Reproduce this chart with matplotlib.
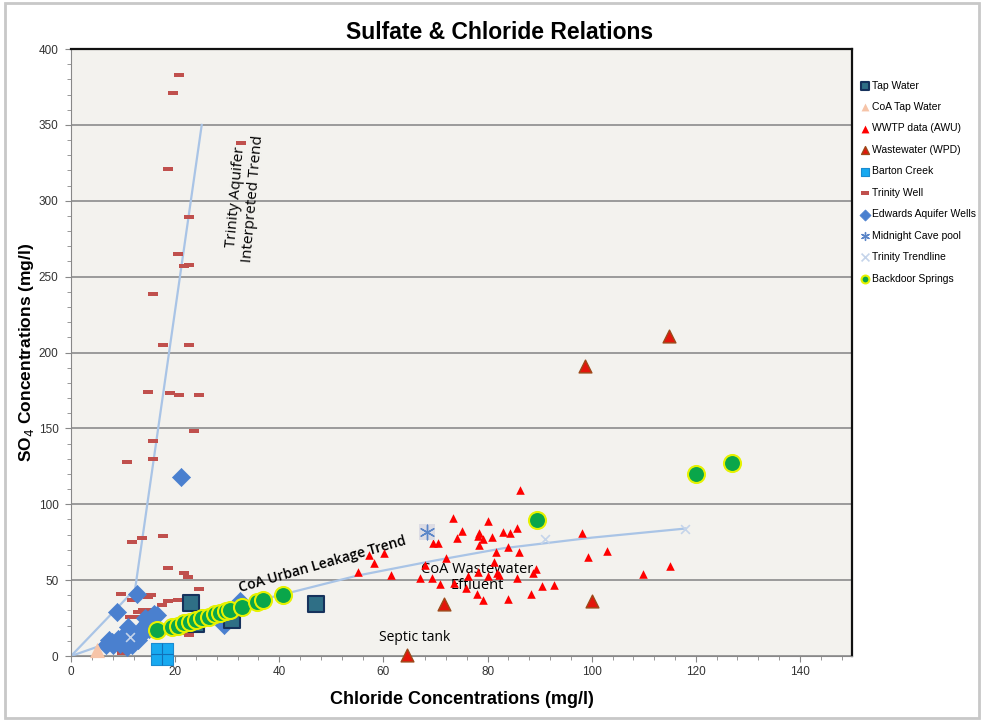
import matplotlib
matplotlib.use("Agg")
import matplotlib.pyplot as plt
from matplotlib.patches import Rectangle
from matplotlib.ticker import MultipleLocator

plt.rcParams['font.family'] = ['Liberation Sans Narrow', 'Liberation Sans', 'DejaVu Sans']

# ---- data (Cl mg/l, SO4 mg/l) ----
tap_cl = [23, 47, 31, 24]
tap_so4 = [35, 34, 24, 21]

coa_tap_cl = [4.9]
coa_tap_so4 = [4]

wwtp_cl = [86.2, 73.3, 80.0, 85.6, 75.1, 78.4, 83.0, 84.4, 78.2, 79.1, 80.8, 74.1,
           69.5, 70.5, 78.4, 83.9, 81.6, 86.1, 98.1, 99.2, 102.9, 115.0, 109.9, 72.0,
           67.9, 81.3, 55.2, 58.2, 57.2, 60.1, 61.5, 67.0, 69.4, 70.9, 73.6, 76.3,
           75.9, 78.2, 80.1, 81.8, 82.2, 85.6, 88.8, 89.3, 77.9, 79.2, 83.9, 88.3,
           90.5, 92.8]
wwtp_so4 = [109.4, 90.7, 89.0, 84.1, 82.6, 81.3, 81.9, 81.3, 79.0, 76.9, 78.2, 77.5,
            74.2, 74.2, 73.1, 71.6, 68.3, 68.7, 80.8, 65.0, 69.2, 59.3, 54.0, 64.4,
            60.0, 62.1, 55.6, 61.1, 66.6, 67.7, 53.4, 51.6, 51.2, 47.2, 47.9, 52.7,
            44.6, 55.6, 52.7, 54.5, 53.4, 51.2, 54.9, 57.1, 40.7, 36.9, 37.6, 40.9,
            46.1, 46.8]

wpd_cl = [98.7, 114.8, 71.7, 100.0, 64.6]
wpd_so4 = [191, 211, 34, 36.4, 0.5]

barton_cl = [17.5]
barton_so4 = [1]

trinity_cl = [20.7, 19.6, 32.7, 18.6, 22.7, 20.6, 21.6, 22.7, 15.7, 17.7, 22.7,
              14.7, 19.0, 20.7, 24.6, 23.6, 15.7, 10.7, 15.7, 11.7, 13.6, 17.7,
              18.7, 21.7, 22.5, 24.6, 9.6, 11.7, 14.7, 15.3, 18.7, 17.4, 20.6,
              12.9, 13.8, 15.5, 11.3, 12.5, 15.7, 20.3, 21.3, 22.1, 22.7, 9.7]
trinity_so4 = [383, 371, 338, 321, 289, 265, 257, 258, 238.5, 205, 205,
               174, 173, 172, 172, 148, 142, 128, 130, 75, 78, 79,
               58, 54.5, 52, 44, 41, 37, 39, 40, 36, 33.6, 37,
               29, 30, 30, 25.5, 25.5, 24, 19, 16, 15, 14, 2]

edwards_cl = [21.1, 12.6, 8.8, 11.0, 14.2, 7.2, 8.1, 9.4, 10.7, 11.7, 12.9, 13.9,
              14.9, 10.0, 6.8, 29.4, 32.5, 15.5, 16.0, 7.8, 9.0, 10.5, 12.0, 13.2,
              14.5, 16.5]
edwards_so4 = [118, 41, 29, 19, 25, 10.5, 7, 8, 6, 7, 10.5, 15,
               18, 13, 7, 20.4, 36, 22, 28, 9, 11, 9, 12, 17,
               22, 27]

cave_cl = [68.4]
cave_so4 = [81.7]

trend_mark_cl = [11.3, 91.0, 118.0]
trend_mark_so4 = [12.7, 77.0, 84.0]

backdoor_cl = [16.5, 19.3, 20.5, 21.7, 22.8, 24.0, 25.2, 26.4, 27.6, 28.7, 29.7,
               30.5, 32.8, 35.7, 36.9, 40.8, 89.4, 120.0, 126.9]
backdoor_so4 = [17, 19, 20, 21.5, 22.5, 24, 25, 26, 27.5, 28.5, 29.5,
                30.5, 32.5, 35.5, 37, 40.5, 89.6, 120.0, 127.0]

# trend lines as drawn on the chart
trinity_line_cl = [0, 12.3, 25.1]
trinity_line_so4 = [0, 44, 350]
urban_line_cl = [0, 10, 20, 30, 40, 55, 70, 83, 100, 118]
urban_line_so4 = [0, 12, 23, 32, 40, 53, 63, 71, 78, 84]

# ---- figure ----
fig = plt.figure(figsize=(9.84, 7.22), dpi=100)
fig.patches.append(Rectangle((0.005, 0.006), 0.99, 0.99, transform=fig.transFigure,
                             fill=False, edgecolor='#c8c8c8', linewidth=2))
ax = fig.add_axes([0.0722, 0.0914, 0.7937, 0.8407])
ax.set_facecolor('#f3f2ee')

ax.plot(trinity_line_cl, trinity_line_so4, color='#a9c4e6', lw=1.6, zorder=2)
ax.plot(urban_line_cl, urban_line_so4, color='#a9c4e6', lw=1.6, zorder=2)

dash = [(-1, -0.4), (1, -0.4), (1, 0.4), (-1, 0.4), (-1, -0.4)]

ax.scatter(trinity_cl, trinity_so4, marker=dash, s=45, color='#c0504d',
           linewidths=0, label='Trinity Well', zorder=3)
ax.scatter(edwards_cl, edwards_so4, marker='D', s=85, color='#4a80cf',
           edgecolors='#4a80cf', linewidths=0.5, label='Edwards Aquifer Wells', zorder=4)
ax.scatter(tap_cl, tap_so4, marker='s', s=125, color='#2f6f86',
           edgecolors='#16325c', linewidths=1.5, label='Tap Water', zorder=4)
ax.scatter(coa_tap_cl, coa_tap_so4, marker='^', s=120, color='#f6c4a8',
           linewidths=0, label='CoA Tap Water', zorder=4, clip_on=False)
ax.scatter(wwtp_cl, wwtp_so4, marker='^', s=38, color='#ff0000',
           linewidths=0, label='WWTP data (AWU)', zorder=4)
ax.scatter(wpd_cl, wpd_so4, marker='^', s=85, color='#e3160c',
           edgecolors='#9c4a1a', linewidths=1, label='Wastewater (WPD)', zorder=4,
           clip_on=False)
ax.scatter(barton_cl, barton_so4, marker='s', s=230, color='#17a9f0',
           edgecolors='#1a8bd0', linewidths=0.8, label='Barton Creek', zorder=4,
           clip_on=False)
ax.scatter(barton_cl, barton_so4, marker='+', s=230, color='#1270b8',
           linewidths=0.8, zorder=5, clip_on=False)
ax.scatter(cave_cl, cave_so4, marker='s', s=140, color='#dcdce4',
           linewidths=0, zorder=4)
ax.scatter(cave_cl, cave_so4, marker=(6, 2, 0), s=110, color='#5b86c8',
           linewidths=1, label='Midnight Cave pool', zorder=5)
ax.scatter(trend_mark_cl, trend_mark_so4, marker='x', s=40, color='#c5d4ea',
           linewidths=1.2, label='Trinity Trendline', zorder=4)
ax.scatter(backdoor_cl, backdoor_so4, marker='o', s=150, color='#0aa64a',
           edgecolors='#e6f200', linewidths=1.5, label='Backdoor Springs', zorder=6)

ax.set_xlim(0, 150)
ax.set_ylim(0, 400)
ax.xaxis.set_major_locator(MultipleLocator(20))
ax.xaxis.set_minor_locator(MultipleLocator(4))
ax.yaxis.set_major_locator(MultipleLocator(50))
ax.yaxis.set_minor_locator(MultipleLocator(10))
ax.grid(axis='y', which='major', color='#9a9a9a', lw=1.4)
ax.set_axisbelow(True)
ax.tick_params(which='both', colors='#888888', labelcolor='#333333', labelsize=8.5,
               direction='out')
ax.tick_params(which='major', length=4)
ax.tick_params(which='minor', length=3)
ax.tick_params(axis='y', pad=5)
for s in ['left', 'bottom']:
    ax.spines[s].set_color('#888888')
for s in ['top', 'right']:
    ax.spines[s].set_color('#111111')
    ax.spines[s].set_linewidth(1.6)

ax.set_xlabel('Chloride Concentrations (mg/l)', fontsize=13, fontweight='bold', labelpad=9)
ax.set_ylabel('SO$_4$ Concentrations (mg/l)', fontsize=12.5, fontweight='bold', labelpad=2)
fig.text(0.508, 0.955, 'Sulfate & Chloride Relations', ha='center', va='center',
         fontsize=16.5, fontweight='bold')

ax.text(33.4, 302, 'Trinity Aquifer\nInterpreted Trend', rotation=85, ha='center',
        va='center', fontsize=11, rotation_mode='anchor', family=['Open Sans', 'DejaVu Sans'])
ax.text(48.3, 60.6, 'CoA Urban Leakage Trend', rotation=16, ha='center', va='center',
        fontsize=10, fontweight='semibold', rotation_mode='anchor',
        family=['Open Sans', 'DejaVu Sans'])
ax.text(78, 51.5, 'CoA Wastewater\nEffluent', ha='center', va='center', fontsize=10.5,
        linespacing=1.1, family=['Open Sans', 'DejaVu Sans'])
ax.text(65.9, 12, 'Septic tank', ha='center', va='center', fontsize=10,
        family=['Open Sans', 'DejaVu Sans'])

order = ['Tap Water', 'CoA Tap Water', 'WWTP data (AWU)', 'Wastewater (WPD)',
         'Barton Creek', 'Trinity Well', 'Edwards Aquifer Wells', 'Midnight Cave pool',
         'Trinity Trendline', 'Backdoor Springs']
handles, labels = ax.get_legend_handles_labels()
hmap = dict(zip(labels, handles))
leg = ax.legend([hmap[k] for k in order], order, loc='upper left',
                bbox_to_anchor=(1.005, 0.955), frameon=False, fontsize=7.5,
                labelspacing=1.1, handletextpad=0.1, handlelength=1.0, borderaxespad=0)
for h in leg.legend_handles:
    h.set_sizes([32])

fig.savefig('out.png', dpi=100)
